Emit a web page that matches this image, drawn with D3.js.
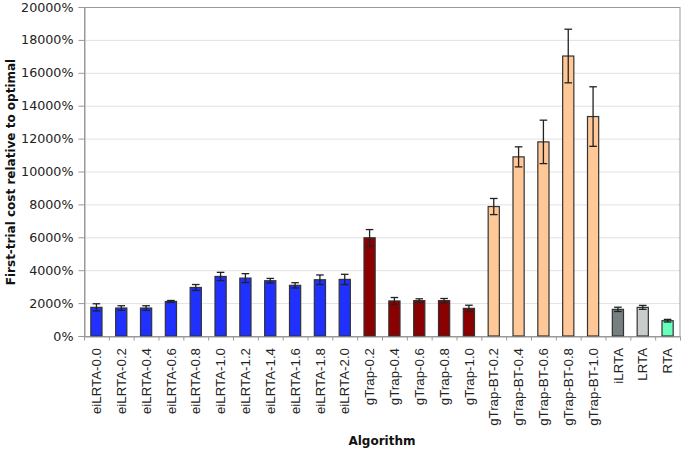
<!DOCTYPE html>
<html><head><meta charset="utf-8">
<script src="https://cdn.jsdelivr.net/npm/d3@7"></script>
<style>body{margin:0;background:#fff}svg{display:block}text{font-family:"DejaVu Sans",Verdana,sans-serif}</style>
</head><body><svg id="c" width="682" height="451"></svg>
<script>
const categories = ["eiLRTA-0.0","eiLRTA-0.2","eiLRTA-0.4","eiLRTA-0.6","eiLRTA-0.8","eiLRTA-1.0","eiLRTA-1.2","eiLRTA-1.4","eiLRTA-1.6","eiLRTA-1.8","eiLRTA-2.0","gTrap-0.2","gTrap-0.4","gTrap-0.6","gTrap-0.8","gTrap-1.0","gTrap-BT-0.2","gTrap-BT-0.4","gTrap-BT-0.6","gTrap-BT-0.8","gTrap-BT-1.0","iLRTA","LRTA","RTA"];
const values = [1740,1700,1700,2100,2950,3620,3520,3360,3080,3420,3440,5970,2130,2150,2150,1680,7870,10890,11800,17020,13340,1620,1740,930];
const errors = [220,140,140,60,180,250,270,140,160,290,310,500,210,110,130,190,490,610,1320,1630,1810,130,120,80];
const groups = ["ei","ei","ei","ei","ei","ei","ei","ei","ei","ei","ei","g","g","g","g","g","bt","bt","bt","bt","bt","il","l","r"];
const groupColors = {ei:"#1f30ff", g:"#8b0000", bt:"#ffc896", il:"#778080", l:"#c8cccc", r:"#66ffbb"};
const yTicks = [0,2000,4000,6000,8000,10000,12000,14000,16000,18000,20000];

const svg = d3.select("#c");
const L=84, R=680, T=7, B=336;
const x = d3.scaleBand().domain(categories).range([L,R]).paddingInner(0.55).paddingOuter(0.275);
const y = d3.scaleLinear().domain([0,20000]).range([B,T]);

// gridlines
svg.append("g").selectAll("line").data(yTicks.slice(1)).join("line")
  .attr("x1",L).attr("x2",R).attr("y1",d=>y(d)+0.5).attr("y2",d=>y(d)+0.5)
  .attr("stroke","#e2e2e2").attr("stroke-width",1);

// plot frame (right/top)
svg.append("rect").attr("x",L+0.5).attr("y",T+0.5).attr("width",R-L-0.5).attr("height",B-T)
  .attr("fill","none").attr("stroke","#999").attr("stroke-width",1);

// bars
svg.append("g").selectAll("rect").data(categories).join("rect")
  .attr("x",(d)=>x(d)).attr("width",x.bandwidth())
  .attr("y",(d,i)=>y(values[i])).attr("height",(d,i)=>B-y(values[i]))
  .attr("fill",(d,i)=>groupColors[groups[i]]).attr("stroke","#333").attr("stroke-width",1.2);

// error bars
const eg = svg.append("g").attr("stroke","#222").attr("stroke-width",1.3);
categories.forEach((c,i)=>{
  const cx = x(c)+x.bandwidth()/2;
  const y1 = y(values[i]+errors[i]), y2 = y(values[i]-errors[i]);
  eg.append("line").attr("x1",cx).attr("x2",cx).attr("y1",y1).attr("y2",y2);
  eg.append("line").attr("x1",cx-3.8).attr("x2",cx+3.8).attr("y1",y1).attr("y2",y1);
  eg.append("line").attr("x1",cx-3.8).attr("x2",cx+3.8).attr("y1",y2).attr("y2",y2);
});

// y axis
const ya = svg.append("g").attr("transform",`translate(${L+0.5},0)`)
  .call(d3.axisLeft(y).tickValues(yTicks).tickSize(6).tickPadding(5).tickFormat(d=>d+"%"));
ya.select(".domain").attr("stroke","#999");
ya.selectAll(".tick line").attr("stroke","#999");
ya.selectAll("text").attr("font-size","12.7px").attr("fill","#222").style("font-family","'DejaVu Sans',Verdana,sans-serif");

// x axis
const xa = svg.append("g").attr("transform",`translate(0,${B+0.5})`)
  .call(d3.axisBottom(x).tickSize(0).tickPadding(0));
xa.select(".domain").attr("stroke","#999");
xa.selectAll(".tick text").attr("font-size","13.3px").attr("fill","#222")
  .style("font-family","'Liberation Sans',Arial,sans-serif")
  .attr("transform","rotate(-90)").attr("text-anchor","end").attr("dx","-11.5px").attr("dy","0.35em").attr("y",0).attr("x",0);
// tick marks at band boundaries
xa.append("g").selectAll("line").data(d3.range(categories.length+1)).join("line")
  .attr("x1",d=>L+d*(R-L)/categories.length+0.5).attr("x2",d=>L+d*(R-L)/categories.length+0.5)
  .attr("y1",0).attr("y2",4).attr("stroke","#999");

// titles
svg.append("text").attr("x",(L+R)/2).attr("y",445).attr("text-anchor","middle")
  .attr("font-size","12px").attr("font-weight","bold").attr("fill","#111").text("Algorithm");
svg.append("text").attr("transform","translate(15,172) rotate(-90)").attr("text-anchor","middle")
  .attr("font-size","12px").attr("font-weight","bold").attr("fill","#111").text("First-trial cost relative to optimal");
</script></body></html>
